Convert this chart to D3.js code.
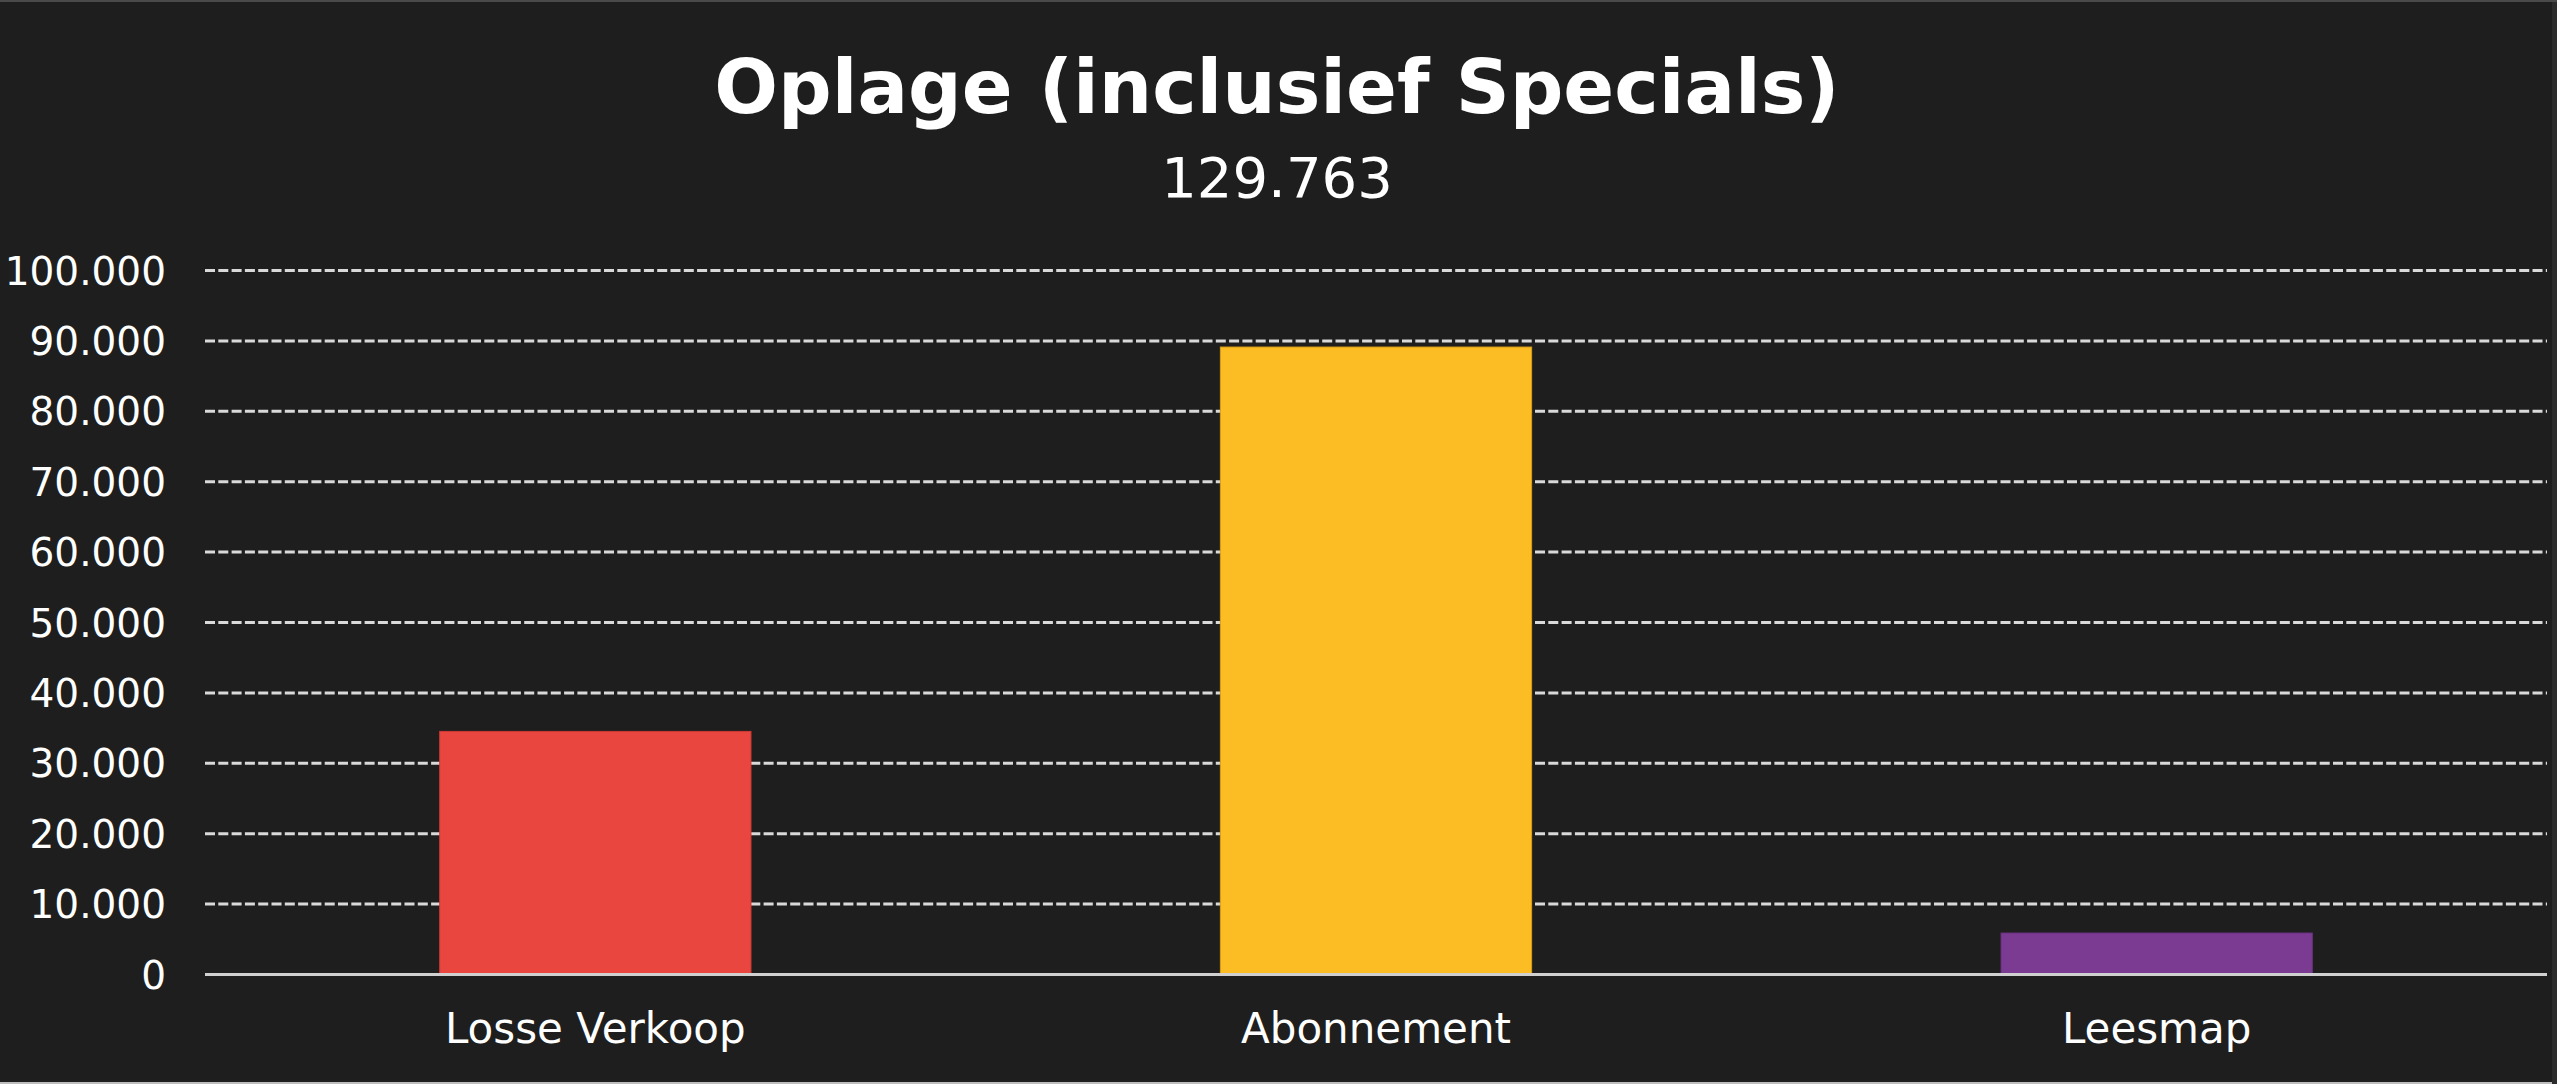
<!DOCTYPE html>
<html>
<head>
<meta charset="utf-8">
<script src="https://cdn.jsdelivr.net/npm/d3@7/dist/d3.min.js"></script>
<style>
  html, body { margin: 0; padding: 0; background: #ffffff; }
  svg { display: block; }
</style>
</head>
<body>
<svg id="chart" width="2557" height="1090"></svg>
<script>
const title = "Oplage (inclusief Specials)";
const subtitle = "129.763";
const categories = ["Losse Verkoop", "Abonnement", "Leesmap"];
const values = [34600, 89200, 5963];
const colors = ["#e8463f", "#fbbc24", "#7b3b93"];
const strokeColors = ["#d03a34", "#d99e18", "#6a3180"];
const yTicks = [0, 10000, 20000, 30000, 40000, 50000, 60000, 70000, 80000, 90000, 100000];

const W = 2557, H = 1090;
const FONT = "'DejaVu Sans', sans-serif";
const svg = d3.select("#chart");

// frame
svg.append("rect").attr("x", 0).attr("y", 0).attr("width", W).attr("height", 1084).attr("fill", "#1e1e1e");
svg.append("rect").attr("x", 2552).attr("y", 0).attr("width", 5).attr("height", 1084).attr("fill", "#2c2c2c");
svg.append("rect").attr("x", 0).attr("y", 0).attr("width", W).attr("height", 2).attr("fill", "#4a4a4a");
svg.append("rect").attr("x", 0).attr("y", 1082).attr("width", 2552).attr("height", 2).attr("fill", "#bdbdbd");

const margin = { left: 205, right: 2547, top: 270.5, bottom: 974.5 };

const x = d3.scaleBand().domain(categories).range([margin.left, margin.right])
  .paddingInner(0.6).paddingOuter(0.3);
const y = d3.scaleLinear().domain([0, 100000]).range([margin.bottom, margin.top]);

const fmt = v => d3.format(",")(v).replace(/,/g, ".");

// gridlines
const grid = svg.append("g");
grid.selectAll("line").data(yTicks.filter(t => t > 0)).join("line")
  .attr("x1", margin.left).attr("x2", margin.right)
  .attr("y1", d => y(d)).attr("y2", d => y(d))
  .attr("stroke", "#d9d9d9").attr("stroke-width", 3)
  .attr("stroke-dasharray", "10,3.3");

// y axis labels
const yAxis = d3.axisLeft(y).tickValues(yTicks).tickFormat(fmt).tickSize(0).tickPadding(0);
const yg = svg.append("g").attr("transform", `translate(166,0)`).call(yAxis);
yg.select(".domain").remove();
yg.selectAll("text").attr("fill", "#ffffff").attr("font-family", FONT)
  .attr("font-size", 39).attr("dy", "0.35em");

// bars
svg.append("g").selectAll("rect").data(values).join("rect")
  .attr("x", (d, i) => x(categories[i]) + 0.5)
  .attr("y", d => y(d) + 0.5)
  .attr("width", x.bandwidth() - 1)
  .attr("height", d => y(0) - y(d) - 0.5)
  .attr("fill", (d, i) => colors[i])
  .attr("stroke", (d, i) => strokeColors[i])
  .attr("stroke-width", 1);

// x axis
const xAxis = d3.axisBottom(x).tickSize(0).tickPadding(0);
const xg = svg.append("g").attr("transform", `translate(0,${margin.bottom})`).call(xAxis);
xg.select(".domain").attr("stroke", "#d0d0d0").attr("stroke-width", 3)
  .attr("d", `M${margin.left},0H${margin.right}`);
xg.selectAll("text").attr("fill", "#ffffff").attr("font-family", FONT)
  .attr("font-size", 42).attr("dy", 0).attr("y", 68);

// titles
svg.append("text").attr("x", 1277).attr("y", 113).attr("text-anchor", "middle")
  .attr("font-family", FONT).attr("font-weight", "bold").attr("font-size", 75)
  .attr("fill", "#ffffff").text(title);
svg.append("text").attr("x", 1277).attr("y", 197).attr("text-anchor", "middle")
  .attr("font-family", FONT).attr("font-weight", 400).attr("font-size", 56)
  .attr("fill", "#ffffff").text(subtitle);
</script>
</body>
</html>
